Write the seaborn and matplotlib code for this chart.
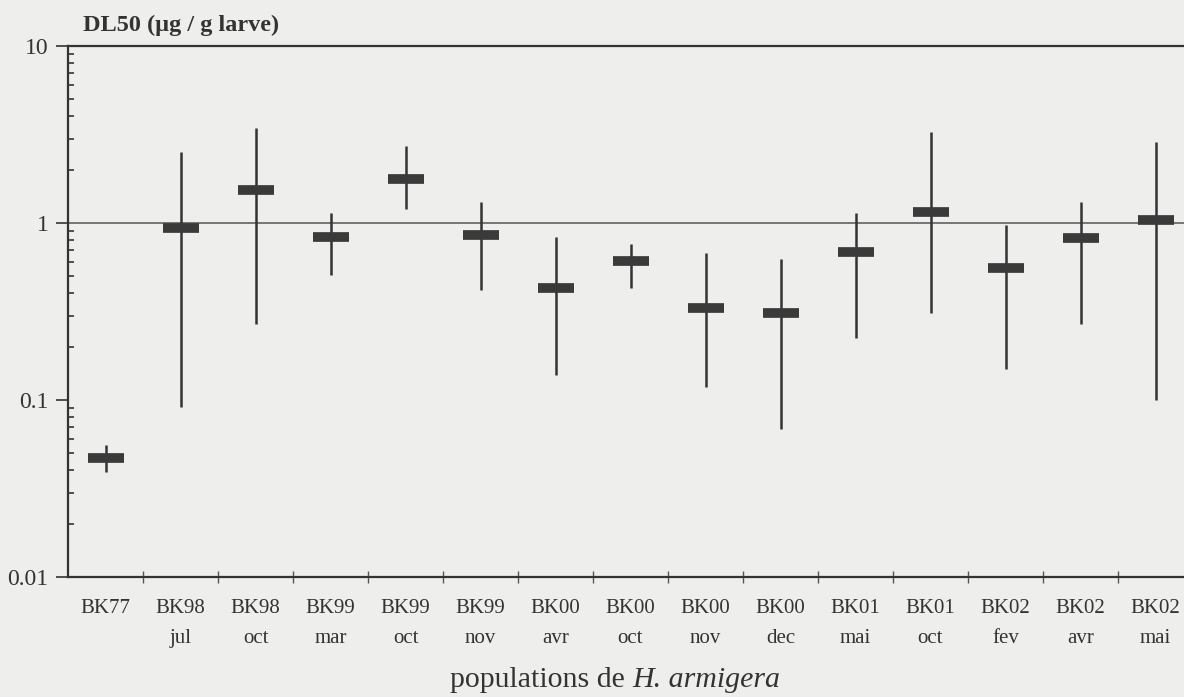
import numpy as np
import pandas as pd
import matplotlib
matplotlib.use("Agg")
import matplotlib.pyplot as plt
from matplotlib.ticker import FixedLocator, LogLocator, NullFormatter
import seaborn as sns

# populations (two-line tick labels) and DL50 with confidence limits
populations = ["BK77", "BK98", "BK98", "BK99", "BK99", "BK99", "BK00", "BK00",
               "BK00", "BK00", "BK01", "BK01", "BK02", "BK02", "BK02"]
months = ["", "jul", "oct", "mar", "oct", "nov", "avr", "oct",
          "nov", "dec", "mai", "oct", "fev", "avr", "mai"]
dl50 = [0.047, 0.94, 1.54, 0.83, 1.77, 0.86, 0.43, 0.61,
        0.33, 0.31, 0.69, 1.15, 0.56, 0.82, 1.04]
ci_low = [0.039, 0.091, 0.27, 0.51, 1.20, 0.42, 0.138, 0.43,
          0.118, 0.069, 0.224, 0.31, 0.15, 0.27, 0.10]
ci_high = [0.056, 2.52, 3.44, 1.14, 2.72, 1.31, 0.83, 0.76,
           0.68, 0.63, 1.14, 3.27, 0.97, 1.31, 2.87]

labels = [p + "\n" + m for p, m in zip(populations, months)]
df = pd.DataFrame({"pop": labels, "dl50": dl50, "lo": ci_low, "hi": ci_high})

sns.set_style("white")
plt.rcParams["font.family"] = ["Liberation Serif", "DejaVu Serif"]

bg = "#eeeeec"
ink = "#333333"

fig = plt.figure(figsize=(11.84, 6.97), dpi=100, facecolor=bg)
ax = fig.add_axes([68 / 1184, 1 - 577 / 697, 1125 / 1184, (577 - 46) / 697])
ax.set_facecolor(bg)

x = np.arange(len(df))
ax.vlines(x, df["lo"], df["hi"], color=ink, linewidth=1.8, zorder=3)
sns.scatterplot(data=df, x="pop", y="dl50", marker="_", s=660, linewidth=7,
                color="#3a3a3a", ax=ax, zorder=4, legend=False)

ax.axhline(1, color="#555555", linewidth=1.1, zorder=1, xmin=-0.006, clip_on=False)

ax.set_yscale("log")
ax.set_ylim(0.01, 10)
ax.set_xlim(-0.5, len(df) - 0.5)

# y ticks: major outward, minor inward
ax.yaxis.set_major_locator(FixedLocator([0.01, 0.1, 1, 10]))
ax.set_yticklabels(["0.01", "0.1", "1", "10"])
ax.yaxis.set_minor_locator(LogLocator(base=10, subs=np.arange(2, 10)))
ax.yaxis.set_minor_formatter(NullFormatter())
ax.tick_params(axis="y", which="major", direction="out", length=9, width=1.2,
               color=ink, labelsize=17, labelcolor=ink, pad=5, left=True)
ax.tick_params(axis="y", which="minor", direction="in", length=4, width=1.2,
               color=ink, left=True)

# x ticks: labels at categories, small crossing ticks between them
ax.set_xticks(x)
ax.set_xticklabels(labels, linespacing=1.75)
ax.xaxis.set_minor_locator(FixedLocator(x[:-1] + 0.5))
ax.tick_params(axis="x", which="major", length=0, labelsize=15, labelcolor=ink, pad=16)
ax.tick_params(axis="x", which="minor", direction="inout", length=9, width=1.0,
               color="#555555", bottom=True)

for side in ["left", "bottom", "top"]:
    ax.spines[side].set_color(ink)
    ax.spines[side].set_linewidth(1.6)
ax.spines["right"].set_visible(False)

ax.set_xlabel("")
ax.set_ylabel("")

fig.text(83 / 1184, 1 - 25 / 697, "DL50 (µg / g larve)", fontsize=17.5,
         fontweight="bold", color=ink, ha="left", va="center")

# x axis title: roman part then italic species name
t1 = fig.text(450 / 1184, 1 - 680 / 697, "populations de ", fontsize=21.5,
              color=ink, ha="left", va="center")
fig.canvas.draw()
bb = t1.get_window_extent()
fig.text(bb.x1 / fig.bbox.width, 1 - 680 / 697, "H. armigera", fontsize=21.5,
         fontstyle="italic", color=ink, ha="left", va="center")

fig.savefig("out.png", dpi=100, facecolor=bg)
